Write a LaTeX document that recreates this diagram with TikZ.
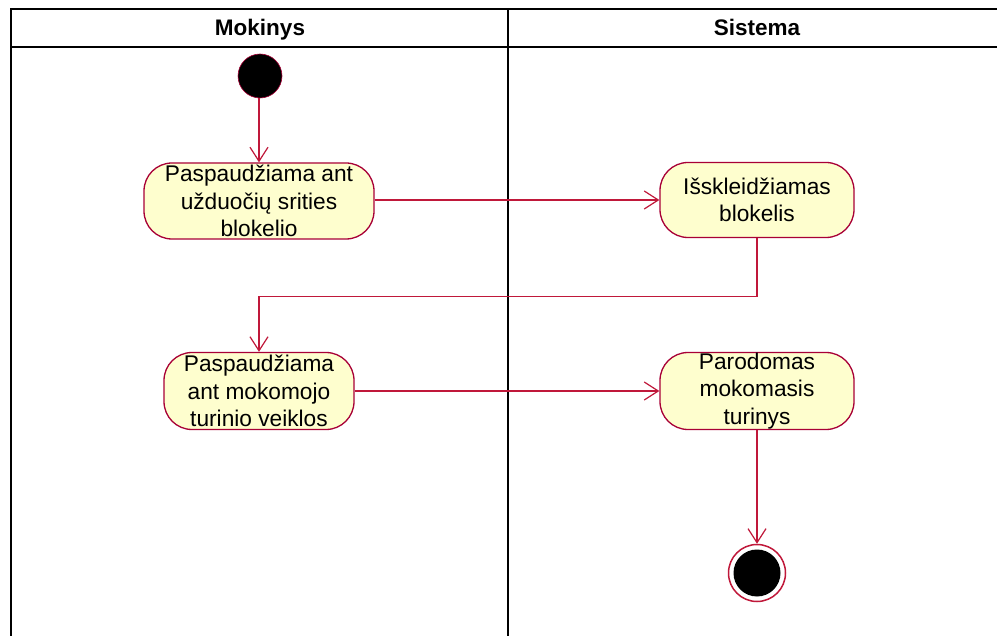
\documentclass[tikz,border=0pt]{standalone}
\usepackage{fontspec}
\setmainfont{Liberation Sans}
\usetikzlibrary{arrows.meta}
\definecolor{umlred}{HTML}{A80036}
\definecolor{flowred}{HTML}{C0183A}
\definecolor{umlfill}{HTML}{FEFECE}
\begin{document}
\begin{tikzpicture}[x=1pt,y=-1pt,
  action/.style={draw=umlred, fill=umlfill, line width=1.3pt, rounded corners=28pt,
    align=center, inner sep=0pt, font=\fontsize{22.7}{27.5}\selectfont},
  flow/.style={draw=flowred, line width=1.2pt,
    -{Straight Barb[length=14pt,width=18pt,line width=1.2pt]}},
  lane/.style={line width=2pt, draw=black},
  lanetitle/.style={font=\bfseries\fontsize{22.5}{27}\selectfont, inner sep=0pt, anchor=base}]
\useasboundingbox (0,0) rectangle (997,636);
\fill[white] (0,0) rectangle (997,636);

% swimlane frame
\draw[lane] (997,9) -- (11,9) -- (11,636);
\draw[lane] (11,47) -- (997,47);
\draw[lane] (508,9) -- (508,636);
\node[lanetitle] (lane1) at (260,36) {Mokinys};
\node[lanetitle] (lane2) at (757,36) {Sistema};

% initial and final states
\node[circle, fill=black, draw=umlred, line width=0.6pt, minimum size=44pt, inner sep=0pt] (start) at (260,76) {};
\node[circle, draw=flowred, line width=1.5pt, minimum size=57pt, inner sep=0pt] (stop) at (757,573) {};
\node[circle, fill=black, minimum size=47pt, inner sep=0pt] (stopdot) at (stop.center) {};

% actions
\node[action, minimum width=230pt, minimum height=76pt] (a1) at (259,201) {Paspaudžiama ant\\užduočių srities\\blokelio};
\node[action, minimum width=194pt, minimum height=75pt] (a2) at (757,200) {Išskleidžiamas\\blokelis};
\node[action, minimum width=190pt, minimum height=77pt] (a3) at (259,391) {Paspaudžiama\\ant mokomojo\\turinio veiklos};
\node[action, minimum width=194pt, minimum height=77pt] (a4) at (757,391) {Parodomas\\mokomasis\\turinys};

% control flow
\draw[flow] (start.south -| a1.north) -- (a1.north);
\draw[flow] (a1.east |- a2.west) -- (a2.west);
\draw[flow] (a2.south) -- ++(0,58) -| (a3.north);
\draw[flow] (a3.east |- a4.west) -- (a4.west);
\draw[flow] (a4.south) -- (stop.north);
\end{tikzpicture}
\end{document}
